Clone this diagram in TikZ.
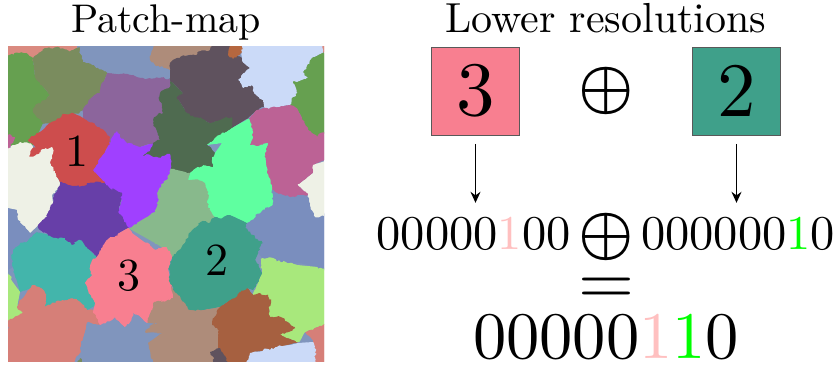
\documentclass[tikz,border=0pt]{standalone}
\usepackage{amsmath,amssymb}
\usepackage{graphicx}
\usepackage{tikz}
\usetikzlibrary{decorations.pathmorphing,arrows.meta}

\definecolor{salmonA}{HTML}{DA8A80}
\definecolor{leafB}{HTML}{66A050}
\definecolor{oliveC}{HTML}{7A8C5E}
\definecolor{steelD}{HTML}{8095BD}
\definecolor{plumE}{HTML}{8C659C}
\definecolor{forestF}{HTML}{4F6B50}
\definecolor{slateG}{HTML}{5F525E}
\definecolor{tanH}{HTML}{AE8C7A}
\definecolor{rustI}{HTML}{B5673F}
\definecolor{skyJ}{HTML}{CBDAF8}
\definecolor{magentaL}{HTML}{BC6295}
\definecolor{mintM}{HTML}{5FFFA0}
\definecolor{sageN}{HTML}{88B98C}
\definecolor{violetO}{HTML}{A040FF}
\definecolor{redP}{HTML}{CD4D4D}
\definecolor{creamQ}{HTML}{EEF1E6}
\definecolor{indigoR}{HTML}{673FA8}
\definecolor{blueS}{HTML}{7A8EBE}
\definecolor{aquaT}{HTML}{43B5AB}
\definecolor{pinkU}{HTML}{F87F90}
\definecolor{tealV}{HTML}{3FA08A}
\definecolor{limeW}{HTML}{A8E87C}
\definecolor{coralX}{HTML}{D67F78}
\definecolor{brownAA}{HTML}{A66040}
\definecolor{bitpink}{HTML}{FFC0C0}
\definecolor{bitgreen}{HTML}{00FF00}

\tikzset{
  txt/.style={inner sep=0pt, outer sep=0pt, text=black},
  title/.style={txt, anchor=base, scale=4},
  maplabel/.style={txt, scale=4.6},
  colbox/.style={draw=black!65, line width=0.8pt, minimum size=88pt, inner sep=0pt, outer sep=0pt},
  bits/.style={txt, scale=4.85},
  bigbits/.style={txt, scale=6.65},
  opsym/.style={txt, scale=6.2},
  eqsym/.style={txt, scale=7.2},
  lowarrow/.style={-{Stealth[length=11pt,width=10pt]}, line width=1.4pt},
  coarse/.style={decoration={random steps, segment length=8pt, amplitude=2.6pt}},
  fine/.style={decoration={random steps, segment length=2pt, amplitude=1.1pt}}
}

% Every patch: colour and outline
\newcommand{\patchlist}{%
  \patch{salmonA}{(4,42) -- (78,42) -- (75,56) -- (45,52) -- (35,60) -- (4,60)}
  \patch{salmonA}{(320,42) -- (328,42) -- (328,54) -- (322,52)}
  \patch{leafB}{(4,55) -- (20,53) -- (33,58) -- (35,77) -- (50,95) -- (33,110) -- (43,123) -- (33,145) -- (13,150) -- (4,135)}
  \patch{oliveC}{(33,58) -- (45,48) -- (73,50) -- (83,46) -- (83,62) -- (103,70) -- (107,73) -- (100,93) -- (83,110) -- (63,117) -- (50,123) -- (43,123) -- (33,110) -- (50,95) -- (35,77)}
  \patch{steelD}{(82,42) -- (160,42) -- (150,60) -- (170,77) -- (143,80) -- (117,72) -- (103,70) -- (83,62)}
  \patch{plumE}{(107,73) -- (170,80) -- (170,87) -- (160,93) -- (163,113) -- (153,120) -- (160,140) -- (140,147) -- (117,140) -- (110,150) -- (83,117) -- (83,110) -- (100,93)}
  \patch{forestF}{(170,80) -- (183,93) -- (177,97) -- (187,113) -- (210,123) -- (232,117) -- (232,128) -- (207,145) -- (215,153) -- (213,167) -- (198,167) -- (190,173) -- (170,170) -- (140,158) -- (153,143) -- (160,140) -- (153,120) -- (163,113) -- (160,93) -- (170,87)}
  \patch{tanH}{(155,42) -- (212,42) -- (210,50) -- (177,58) -- (170,70) -- (150,60)}
  \patch{slateG}{(170,63) -- (177,58) -- (210,50) -- (212,42) -- (235,42) -- (230,53) -- (242,58) -- (250,68) -- (238,80) -- (243,88) -- (252,85) -- (265,105) -- (257,110) -- (248,118) -- (232,128) -- (232,117) -- (210,123) -- (187,113) -- (177,97) -- (183,93) -- (170,80)}
  \patch{rustI}{(233,42) -- (244,42) -- (242,52) -- (233,59) -- (228,55)}
  \patch{skyJ}{(243,42) -- (322,42) -- (323,53) -- (312,58) -- (303,72) -- (308,78) -- (298,82) -- (298,93) -- (290,105) -- (265,108) -- (252,85) -- (243,88) -- (238,80) -- (250,68) -- (242,58) -- (242,52)}
  \patch{leafB}{(328,52) -- (312,58) -- (303,72) -- (308,78) -- (293,82) -- (298,93) -- (290,105) -- (298,110) -- (308,130) -- (317,137) -- (328,132)}
  \patch{magentaL}{(290,105) -- (267,108) -- (257,110) -- (248,120) -- (253,137) -- (250,145) -- (268,143) -- (265,153) -- (267,173) -- (272,190) -- (283,195) -- (308,195) -- (298,185) -- (313,173) -- (313,165) -- (328,158) -- (328,132) -- (317,137) -- (308,130) -- (298,110)}
  \patch{magentaL}{(4,133) -- (15,137) -- (4,160)}
  \patch{mintM}{(248,119) -- (253,137) -- (250,145) -- (268,143) -- (265,153) -- (267,173) -- (272,190) -- (278,200) -- (273,205) -- (247,223) -- (230,215) -- (215,217) -- (207,207) -- (203,183) -- (188,180) -- (190,173) -- (198,167) -- (213,167) -- (215,153) -- (222,143) -- (207,145) -- (232,128)}
  \patch{sageN}{(168,168) -- (190,173) -- (188,180) -- (205,183) -- (208,205) -- (215,217) -- (195,228) -- (185,243) -- (172,258) -- (163,248) -- (155,243) -- (128,228) -- (155,210) -- (155,197)}
  \patch{violetO}{(117,131) -- (120,137) -- (140,147) -- (153,143) -- (140,158) -- (170,154) -- (170,170) -- (157,193) -- (155,212) -- (128,228) -- (118,212) -- (122,200) -- (107,187) -- (93,170) -- (105,152)}
  \patch{redP}{(62,115) -- (73,113) -- (83,118) -- (97,127) -- (110,137) -- (105,152) -- (93,170) -- (105,183) -- (80,187) -- (60,182) -- (55,173) -- (50,163) -- (52,147) -- (30,158) -- (27,155) -- (37,147) -- (28,140) -- (43,130) -- (50,123)}
  \patch{creamQ}{(4,207) -- (4,153) -- (20,142) -- (33,147) -- (28,157) -- (52,147) -- (50,163) -- (55,173) -- (60,183) -- (52,195) -- (53,203) -- (47,217) -- (30,233) -- (18,220) -- (17,210)}
  \patch{blueS}{(4,208) -- (17,210) -- (18,220) -- (30,233) -- (40,232) -- (13,250) -- (13,267) -- (4,272)}
  \patch{blueS}{(272,190) -- (283,195) -- (308,195) -- (310,205) -- (316,215) -- (328,212) -- (328,270) -- (300,263) -- (270,258) -- (262,258) -- (253,235) -- (243,228) -- (247,223) -- (273,205)}
  \patch{creamQ}{(328,160) -- (313,165) -- (313,173) -- (298,185) -- (308,195) -- (310,205) -- (315,217) -- (328,213)}
  \patch{indigoR}{(60,182) -- (80,187) -- (105,183) -- (122,193) -- (118,212) -- (128,228) -- (107,240) -- (97,257) -- (80,240) -- (72,245) -- (40,230) -- (38,225) -- (47,217) -- (53,203)}
  \patch{aquaT}{(37,232) -- (63,238) -- (72,245) -- (80,240) -- (97,258) -- (90,267) -- (92,275) -- (85,283) -- (95,303) -- (100,303) -- (87,310) -- (77,303) -- (72,298) -- (45,307) -- (45,293) -- (32,285) -- (20,292) -- (13,267) -- (13,250)}
  \patch{limeW}{(4,270) -- (20,292) -- (17,307) -- (23,313) -- (4,327)}
  \patch{limeW}{(262,258) -- (273,258) -- (297,265) -- (328,268) -- (328,323) -- (305,332) -- (298,342) -- (280,335) -- (295,328) -- (283,318) -- (270,317) -- (268,295) -- (253,295) -- (262,273)}
  \patch{coralX}{(32,285) -- (45,293) -- (45,307) -- (72,298) -- (87,310) -- (93,310) -- (100,325) -- (88,322) -- (75,366) -- (4,366) -- (4,333) -- (10,328) -- (4,323) -- (23,313) -- (17,307)}
  \patch{coralX}{(328,323) -- (305,332) -- (313,340) -- (315,366) -- (328,366)}
  \patch{steelD}{(100,325) -- (115,317) -- (125,327) -- (133,313) -- (147,323) -- (158,323) -- (145,332) -- (162,333) -- (148,343) -- (157,366) -- (75,366) -- (88,322)}
  \patch{tanH}{(170,298) -- (153,303) -- (147,323) -- (158,323) -- (145,332) -- (162,333) -- (148,343) -- (157,366) -- (225,366) -- (218,350) -- (218,325) -- (212,325) -- (217,313) -- (220,307) -- (202,310) -- (190,310) -- (170,285)}
  \patch{pinkU}{(128,228) -- (132,233) -- (155,250) -- (165,247) -- (172,257) -- (168,270) -- (172,285) -- (173,298) -- (153,303) -- (147,323) -- (133,313) -- (125,327) -- (115,317) -- (100,325) -- (93,313) -- (95,303) -- (85,283) -- (92,275) -- (90,267) -- (97,257) -- (107,240)}
  \patch{brownAA}{(247,288) -- (253,295) -- (268,295) -- (270,317) -- (283,318) -- (295,328) -- (280,335) -- (298,342) -- (270,350) -- (253,352) -- (242,366) -- (220,366) -- (218,348) -- (218,328) -- (212,325) -- (217,313) -- (220,307) -- (230,300)}
  \patch{slateG}{(210,352) -- (220,348) -- (233,366) -- (215,366)}
  \patch{skyJ}{(242,366) -- (250,353) -- (270,350) -- (298,343) -- (313,342) -- (315,366)}
  \patch{tealV}{(230,215) -- (247,223) -- (245,228) -- (253,235) -- (263,243) -- (255,260) -- (262,273) -- (253,290) -- (247,288) -- (230,300) -- (220,307) -- (202,310) -- (190,310) -- (170,283) -- (172,257) -- (185,243) -- (195,228) -- (215,217)}
  \patch{oliveC}{(75,366) -- (80,358) -- (85,366)}
}

\begin{document}
\begin{tikzpicture}[x=1pt,y=-1pt]
  \useasboundingbox (0,0) rectangle (837,366);
  % Patch-map: plain outlines first, jagged outlines on top
  \begin{scope}
    \clip (8,46.5) rectangle (324,361.5);
    \pgfmathsetseed{7}
    \fill[steelD] (8,46.5) rectangle (324,361.5);
    \def\patch#1#2{\fill[#1] #2 -- cycle;}
    \patchlist
    \def\patch#1#2{\fill[#1] decorate[fine]{decorate[coarse]{#2 -- cycle}};}
    \patchlist
  \end{scope}
  % Patch numbers
  \node[maplabel] (lab1) at (77,151) {1};
  \node[maplabel] (lab3) at (129,276) {3};
  \node[maplabel] (lab2) at (217,260) {2};
  % Titles
  \node[title] (maptitle) at (166,33) {Patch-map};
  \node[title, scale=1.05] (lowtitle) at (606,33) {Lower resolutions};
  % Boxes
  \node[colbox, fill=pinkU] (box3) at (475.5,91) {\scalebox{7.7}{3}};
  \node[opsym] (opup) at (606,91) {$\boldsymbol{\oplus}$};
  \node[colbox, fill=tealV] (box2) at (736.5,91) {\scalebox{7.7}{2}};
  % Binary rows
  \node[bits] (bits3) at (473.5,233.5) {00000{\color{bitpink}1}00};
  \node[opsym] (opdown) at (606,237) {$\boldsymbol{\oplus}$};
  \node[bits] (bits2) at (738,233.5) {000000{\color{bitgreen}1}0};
  \node[eqsym] (eqsign) at (606,291.5) {$=$};
  \node[bigbits] (result) at (606,337.5) {00000{\color{bitpink}1}{\color{bitgreen}1}0};
  % Arrows down
  \draw[lowarrow, shorten <=9pt, shorten >=14pt] (box3.south) -- (box3.south |- bits3.north);
  \draw[lowarrow, shorten <=9pt, shorten >=14pt] (box2.south) -- (box2.south |- bits2.north);
\end{tikzpicture}
\end{document}
